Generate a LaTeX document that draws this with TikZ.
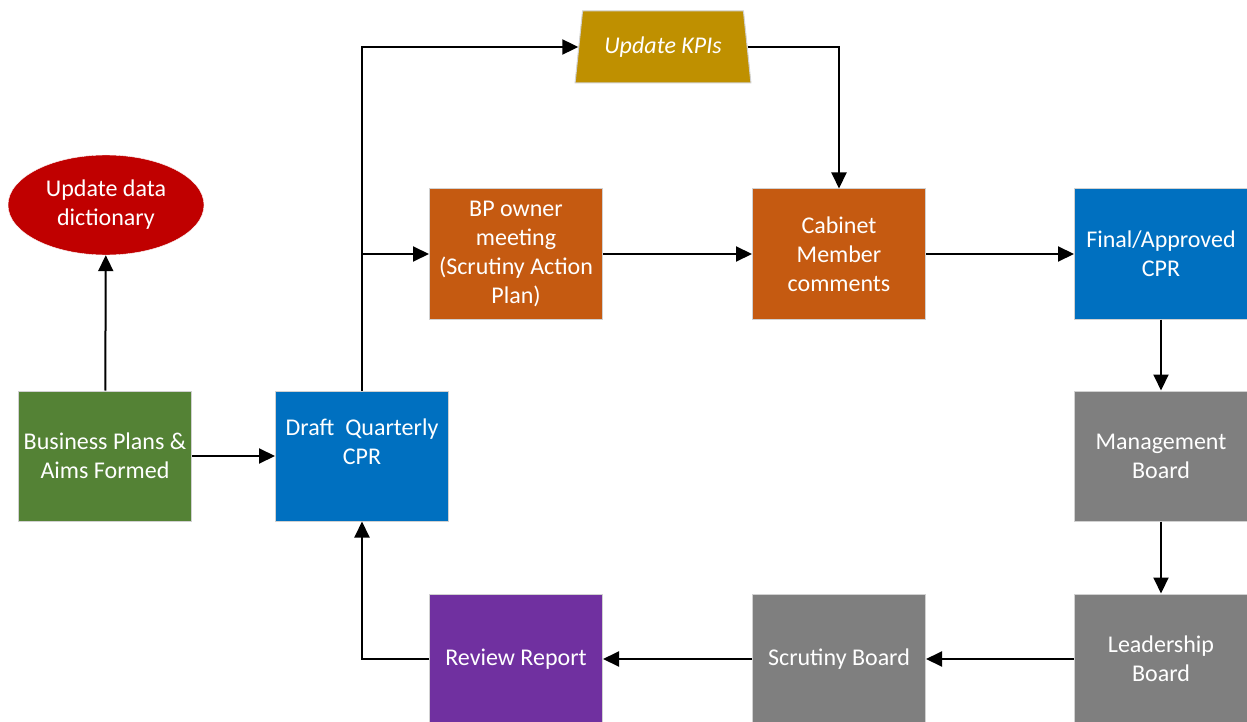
\documentclass[tikz,border=0pt]{standalone}
\usepackage{fontspec}
\setmainfont{Carlito}
\usetikzlibrary{arrows.meta,shapes.geometric}
\definecolor{cprgreen}{HTML}{548235}
\definecolor{cprblue}{HTML}{0070C0}
\definecolor{cprorange}{HTML}{C55A11}
\definecolor{cprgold}{HTML}{BF9000}
\definecolor{cprred}{HTML}{C00000}
\definecolor{cprgrey}{HTML}{7F7F7F}
\definecolor{cprpurple}{HTML}{7030A0}
\begin{document}
\begin{tikzpicture}[x=1pt,y=-1pt,
  box/.style={draw=black!18, line width=1pt, minimum width=173pt, minimum height=130pt,
    align=center, text=white, font=\fontsize{24}{29}\selectfont, inner sep=2pt},
  arr/.style={line width=2pt, -{Triangle[length=16pt,width=15pt]}}]

\clip (0,0) rectangle (1247,722);
\fill[white] (0,0) rectangle (1247,722);

\node[draw=white, fill=cprred, ellipse, minimum width=196pt, minimum height=100pt, inner sep=0pt,
  align=center, text=white, font=\fontsize{24}{29}\selectfont] (dict) at (106,205) {Update data\\dictionary};

\node[box, fill=cprgreen] (plans) at (105,456) {Business Plans \&\\Aims Formed};
\node[box, fill=cprblue] (draft) at (362,456) {Draft\ \ Quarterly\\CPR\\~};

\node[box, fill=cprorange] (bp) at (516,254) {BP owner\\meeting\\(Scrutiny Action\\Plan)};
\node[box, fill=cprorange] (cab) at (839,254) {Cabinet\\Member\\comments};
\node[box, fill=cprblue] (final) at (1161,254) {Final/Approved\\CPR};

\node[draw=black!18, line width=1pt, fill=cprgold, trapezium, trapezium stretches=true,
  trapezium left angle=78, trapezium right angle=78, minimum width=176pt, minimum height=72pt,
  text=white, font=\fontsize{24}{29}\selectfont\itshape] (kpi) at (663,47) {Update KPIs};

\node[box, fill=cprgrey] (mgmt) at (1161,456) {Management\\Board};
\node[box, fill=cprgrey] (lead) at (1161,659) {Leadership\\Board};
\node[box, fill=cprgrey] (scrut) at (839,659) {Scrutiny Board};
\node[box, fill=cprpurple] (review) at (516,659) {Review Report};

\draw[arr] (plans) -- (dict);
\draw[arr] (plans) -- (draft);
\draw[arr] (draft.north) |- (kpi.west);
\draw[arr] (draft.north) |- (bp.west);
\draw[arr] (kpi.east) -| (cab.north);
\draw[arr] (bp) -- (cab);
\draw[arr] (cab) -- (final);
\draw[arr] (final) -- (mgmt);
\draw[arr] (mgmt) -- (lead);
\draw[arr] (lead) -- (scrut);
\draw[arr] (scrut) -- (review);
\draw[arr] (review.west) -| (draft.south);

\end{tikzpicture}
\end{document}
